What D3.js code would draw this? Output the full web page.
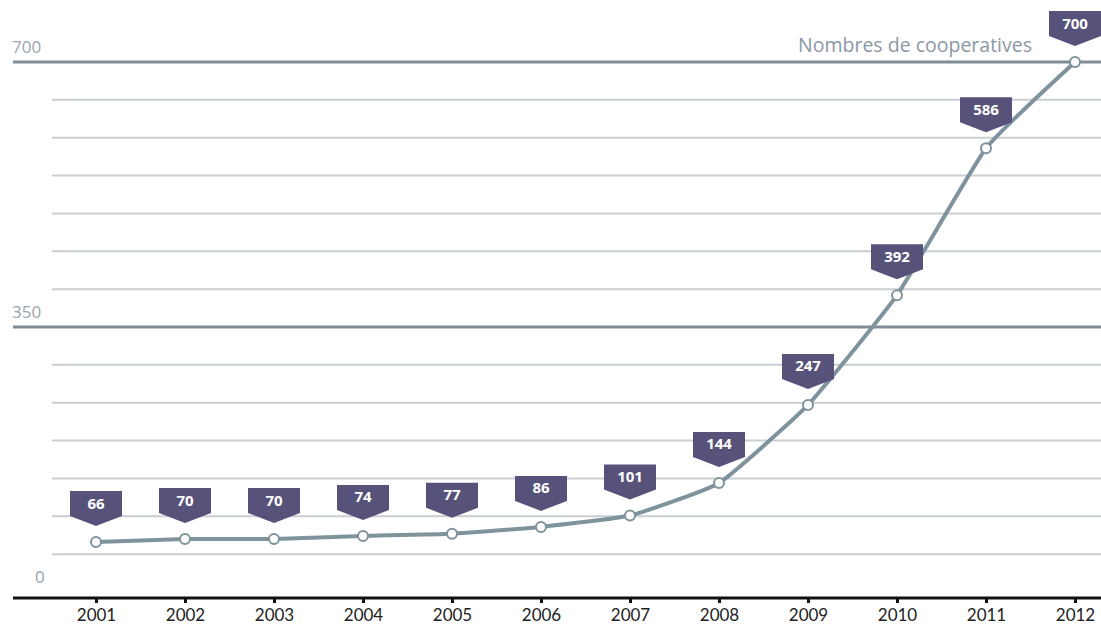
<!DOCTYPE html>
<html>
<head>
<meta charset="utf-8">
<script src="https://cdn.jsdelivr.net/npm/d3@7"></script>
<style>
  html, body { margin: 0; padding: 0; background: #ffffff; }
  svg { display: block; }
</style>
</head>
<body>
<svg id="chart" width="1101" height="628"></svg>
<script>
const years = [2001, 2002, 2003, 2004, 2005, 2006, 2007, 2008, 2009, 2010, 2011, 2012];
const cooperatives = [66, 70, 70, 74, 77, 86, 101, 144, 247, 392, 586, 700];
const majorTicks = [350, 700];
const minorTicks = [50, 100, 150, 200, 250, 300, 400, 450, 500, 550, 600, 650];
const yLabels = [0, 350, 700];
const seriesName = "Nombres de cooperatives";

const svg = d3.select("#chart");
const W = 1101;

const x = d3.scalePoint().domain(years).range([96, 1075]);
const y = d3.scaleLinear().domain([0, 700]).range([592, 62]);

// minor gridlines
svg.append("g").selectAll("line").data(minorTicks).join("line")
  .attr("x1", 52).attr("x2", W)
  .attr("y1", d => y(d)).attr("y2", d => y(d))
  .attr("stroke", "#c9ced3").attr("stroke-width", 2);

// major gridlines
svg.append("g").selectAll("line").data(majorTicks).join("line")
  .attr("x1", 13).attr("x2", W)
  .attr("y1", d => y(d)).attr("y2", d => y(d))
  .attr("stroke", "#7f8d98").attr("stroke-width", 3);

// y labels
svg.append("g").selectAll("text").data(yLabels).join("text")
  .attr("x", d => d === 0 ? 35 : 12)
  .attr("y", d => y(d) - 9)
  .attr("font-family", "'Open Sans', sans-serif")
  .attr("font-size", 17)
  .attr("fill", "#98a4ae")
  .text(d => d);

// series title
svg.append("text")
  .attr("x", 1032).attr("y", 52)
  .attr("text-anchor", "end")
  .attr("font-family", "'Open Sans', sans-serif")
  .attr("font-size", 19.5)
  .attr("fill", "#8a98a4")
  .text(seriesName);

// x axis
const xAxis = d3.axisBottom(x).tickSize(5).tickPadding(6);
const gx = svg.append("g").attr("transform", "translate(0,598)").call(xAxis);
gx.select(".domain").attr("d", `M13,0H${W}`).attr("stroke", "#111").attr("stroke-width", 3);
gx.selectAll(".tick line").attr("stroke", "#111").attr("stroke-width", 3);
gx.selectAll(".tick text")
  .attr("font-family", "Lato, 'Open Sans', sans-serif")
  .attr("font-size", 17)
  .attr("fill", "#222");

const data = years.map((yr, i) => ({ yr, v: cooperatives[i] }));

// line
const line = d3.line().x(d => x(d.yr)).y(d => y(d.v)).curve(d3.curveCardinal.tension(0.6));
svg.append("path").datum(data)
  .attr("d", line)
  .attr("fill", "none")
  .attr("stroke", "#7f939c")
  .attr("stroke-width", 4)
  .attr("stroke-linejoin", "round");

// points
svg.append("g").selectAll("circle").data(data).join("circle")
  .attr("cx", d => x(d.yr)).attr("cy", d => y(d.v))
  .attr("r", 5)
  .attr("fill", "#fff")
  .attr("stroke", "#7f939c")
  .attr("stroke-width", 2);

// tags
const tagW = 52, tagH = 25, tip = 10, gap = 16;
const tags = svg.append("g").selectAll("g").data(data).join("g")
  .attr("transform", d => `translate(${x(d.yr)},${y(d.v) - gap})`);
tags.append("path")
  .attr("d", `M${-tagW/2},${-tip - tagH}H${tagW/2}V${-tip}L0,0L${-tagW/2},${-tip}Z`)
  .attr("fill", "#57527a");
tags.append("text")
  .attr("x", 0).attr("y", -tip - tagH / 2 + 5)
  .attr("text-anchor", "middle")
  .attr("font-family", "'Open Sans', sans-serif")
  .attr("font-weight", "bold")
  .attr("font-size", 15)
  .attr("fill", "#fff")
  .text(d => d.v);
</script>
</body>
</html>
